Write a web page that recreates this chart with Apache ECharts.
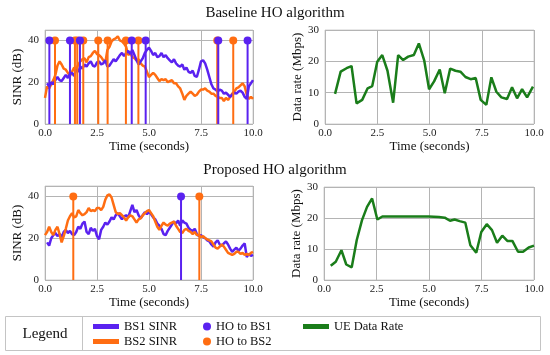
<!DOCTYPE html>
<html>
<head>
<meta charset="utf-8">
<script src="https://cdn.jsdelivr.net/npm/echarts@6/dist/echarts.min.js"></script>
<style>html,body{margin:0;padding:0;background:#fff}#c{width:550px;height:355px}</style>
</head>
<body>
<div id="c"></div>
<script>
// ---------- DATA ----------
const xTicks = [0, 2.5, 5, 7.5, 10];
const sinrStep = 0.1;
// Baseline: BS1 SINR starts at t=0.1, BS2 SINR at t=0.0 (sampled every 0.1 s)
const baseBS1Start = 0.1;
const baseBS1 = [19.5,18,20,19,21,22.5,21,20.5,22,23.5,
 22,24,24.5,23,26,25,27.5,26.5,28.5,27.5,
 29,30,28,27.5,29.5,30,28.5,29,30.5,27.5,
 28,29.5,31,30,31.5,33,34,32.5,34,35,
 33.5,35.5,33,30.5,28.5,30,31.5,34,35.5,36.5,
 35,33,34,32,32.5,34,32,33,31.5,30.5,
 29.5,31,29,28,27.5,28.5,26,27,25,24.5,
 25.5,23,22.5,26,30,30.5,29,26,22.5,19,
 17,16.5,15.5,16.5,16,14.5,15,14,13,14,
 15,14.5,15.5,16,15,13,12,18,19.5,21];
const baseBS2Start = 0.0;
const baseBS2 = [12.5,18,17,19,21,23.5,28,30,28.5,26.5,
 26,24.5,23,25,27,26,28.5,30,31,31.5,
 29.5,32,32.5,34,35,33.5,33,32,30.5,29.5,
 35.5,37,39.5,40.5,41,42,40,39.5,38.5,37,
 33,34,32,31.5,30.5,31,29,28,27.5,25,
 22.5,23.5,24.5,23.5,22,20.5,21.5,21,21.5,20,
 20.5,21,19.5,19.5,18,17,14.5,11.5,13.5,14.5,
 15.5,14.5,13.5,14,15.5,16.5,16.5,17,16,15.5,
 14.5,14.5,13.5,13,12.5,12.5,11,12.5,11.5,13,
 14.5,15.5,17,17.5,18.5,19.5,18,14,12,13,12];
const baseHOtoBS1 = [0.21, 1.20, 1.68, 4.17, 4.84, 8.33, 9.74];
const baseHOtoBS2 = [0.48, 1.44, 1.55, 1.84, 2.56, 3.01, 3.89, 4.49, 8.28, 9.05];

// Proposed
const propBS1Start = 0.1;
const propBS1 = [18,16.5,20,21.5,22.5,21,22,20.5,23,24,
 22.5,23.5,22,21.5,23,25.5,24.5,27,28,23,
 22,25,23.5,24.5,21,19.5,24,25.5,27.5,26.5,
 28,30,29,31,32,30.5,29,30.5,31,30,
 33,36,32.5,33.5,31,29.5,31,32.5,31.5,32.5,
 31.5,30,29,27,26,24.5,22,21.5,23.5,25,
 26.5,28,27,28.5,26,28.5,27.5,27,25,24,
 23.5,24.5,22,21,21.5,20.5,20,19,18.5,17,
 16,18,19,17,16.5,17.5,18.5,17,15,13.5,
 14.5,15.5,14,15,16.5,17.5,11,12.5,11.5,12];
const propBS2Start = 0.0;
const propBS2 = [21.5,23,25.5,23,21.5,24,25.5,22,18,21,
 24.5,28.5,30.5,32,30,30.5,33.5,32,31,31.5,
 32.5,34.5,33,33.5,33,34.5,34.5,33.5,35,38.5,
 40.5,41,39.5,36,32.5,31.5,32,31,30,28.5,
 30,31,30.5,29,27.5,29,29.5,31,32,33,
 33.5,32,30.5,28,25.5,24,26,27.5,26.5,26,
 27,27.5,28,26,24.5,23,22.5,24,24.5,23.5,
 23,22,23,21.5,21.5,20.5,21,20,19.5,19,
 18.5,17,15.5,15,16,17,16,14.5,13,12.5,
 12,12.5,13.5,13.5,12.5,13,12,12.5,12,13,13.5];
const propHOtoBS1 = [6.54];
const propHOtoBS2 = [1.36, 7.42];
const hoLevel = 40;

// Data rate
const baseRateT = [0.48,0.75,1.03,1.27,1.51,1.78,2.04,2.26,2.5,2.74,2.99,3.26,3.5,3.74,3.98,4.25,4.49,4.75,4.98,5.22,5.49,5.73,5.99,6.24,6.48,6.72,6.97,7.21,7.45,7.72,7.96,8.2,8.44,8.71,8.95,9.19,9.43,9.67,9.95];
const baseRate  = [9.6,16.7,17.8,18.5,6.6,7.7,11.4,12.1,19.9,22,17,6.8,22,20.4,21.5,22,25.7,20.2,11.1,13.6,17.4,9.8,17.7,17,16.7,15,14.3,14.7,7.7,6.1,14.9,10.3,8.5,8,11.7,8.2,11.1,8.5,11.9];
const propRateT = [0.32,0.56,0.83,1.06,1.32,1.56,1.81,2.05,2.29,2.54,2.78,3.03,3.27,3.52,3.76,4.0,4.25,4.5,4.74,4.98,5.23,5.47,5.75,6.0,6.22,6.46,6.73,6.97,7.25,7.49,7.75,8.0,8.24,8.49,8.73,8.97,9.24,9.48,9.75,10.0];
const propRate  = [4.6,5.9,9.6,5,4.1,12.9,19.3,23.6,26.3,19.5,20.5,20.5,20.5,20.5,20.5,20.5,20.5,20.5,20.5,20.5,20.4,20.3,20.1,19.1,19.5,19,18.5,11.2,8.8,15.5,18,16.1,12,14.3,12.6,12.6,9.1,9.1,10.5,11.1];

// ---------- CHART ----------
const BLUE = '#5a22f0', ORANGE = '#ff6d12', GREEN = '#1a7d1a';
const FONT = 'Liberation Serif';
const toPairs = (start, arr) => arr.map((v, i) => [+(start + i * sinrStep).toFixed(2), v]);
const zip = (xs, ys) => xs.map((x, i) => [x, ys[i]]);

const grids = [
  {left: 45, top: 30, width: 208, height: 94},
  {left: 325, top: 30, width: 209, height: 94},
  {left: 45, top: 186, width: 208, height: 94},
  {left: 324, top: 187, width: 210, height: 93}
].map(g => Object.assign(g, {show: true, borderColor: '#d0d0d0', borderWidth: 1, backgroundColor: 'transparent'}));

const xAxes = grids.map((g, i) => ({
  type: 'value', gridIndex: i, min: 0, max: 10, interval: 2.5,
  name: 'Time (seconds)', nameLocation: 'middle', nameGap: 16,
  nameTextStyle: {fontFamily: FONT, fontSize: 13, color: '#111'},
  axisLine: {show: false}, axisTick: {show: false},
  axisLabel: {fontFamily: FONT, fontSize: 11, color: '#222', margin: 4, formatter: v => v.toFixed(1)},
  splitLine: {show: true, lineStyle: {color: '#b4b4b4', width: 1}}
}));
const yAxes = grids.map((g, i) => {
  const sinr = (i % 2 === 0);
  return {
    type: 'value', gridIndex: i, min: 0, max: sinr ? 45 : 30, interval: sinr ? 20 : 10,
    name: sinr ? 'SINR (dB)' : 'Data rate (Mbps)', nameLocation: 'middle', nameGap: sinr ? 21 : 19,
    nameTextStyle: {fontFamily: FONT, fontSize: 13, color: '#111'},
    axisLine: {show: false}, axisTick: {show: false},
    axisLabel: {fontFamily: FONT, fontSize: 11, color: '#222', margin: 6,
      showMaxLabel: !sinr},
    splitLine: {show: true, lineStyle: {color: '#b4b4b4', width: 1}}
  };
});

function lineSeries(name, idx, data, color, width, z) {
  return {type: 'line', name, xAxisIndex: idx, yAxisIndex: idx, data, showSymbol: false, symbol: 'none',
    lineStyle: {color, width}, itemStyle: {color}, z, animation: false};
}
function stemSeries(name, idx, times, color) {
  return {
    type: 'custom', name, xAxisIndex: idx, yAxisIndex: idx, z: 5, animation: false,
    itemStyle: {color},
    data: times.map(t => [t, hoLevel]),
    encode: {x: 0, y: 1},
    renderItem: (params, api) => {
      const p0 = api.coord([api.value(0), 0]);
      const p1 = api.coord([api.value(0), api.value(1)]);
      return {type: 'group', children: [
        {type: 'line', shape: {x1: p0[0], y1: p0[1], x2: p1[0], y2: p1[1]}, style: {stroke: color, lineWidth: 2}},
        {type: 'circle', shape: {cx: p1[0], cy: p1[1], r: 4}, style: {fill: color}}
      ]};
    }
  };
}

const series = [
  lineSeries('BS2 SINR', 0, toPairs(baseBS2Start, baseBS2), ORANGE, 2.5, 2),
  lineSeries('BS1 SINR', 0, toPairs(baseBS1Start, baseBS1), BLUE, 2.5, 3),
  stemSeries('HO to BS2', 0, baseHOtoBS2, ORANGE),
  stemSeries('HO to BS1', 0, baseHOtoBS1, BLUE),
  lineSeries('UE Data Rate', 1, zip(baseRateT, baseRate), GREEN, 2.5, 2),
  lineSeries('BS1 SINR', 2, toPairs(propBS1Start, propBS1), BLUE, 2.5, 2),
  lineSeries('BS2 SINR', 2, toPairs(propBS2Start, propBS2), ORANGE, 2.5, 3),
  stemSeries('HO to BS2', 2, propHOtoBS2, ORANGE),
  stemSeries('HO to BS1', 2, propHOtoBS1, BLUE),
  lineSeries('UE Data Rate', 3, zip(propRateT, propRate), GREEN, 2.5, 2)
];

const legTxt = {fontFamily: FONT, fontSize: 12.5, color: '#111'};
const legCommon = {orient: 'vertical', padding: 0, top: 320, itemGap: 2, textStyle: legTxt, selectedMode: false, height: 40};
const option = {
  animation: false,
  textStyle: {fontFamily: FONT},
  title: [
    {text: 'Baseline HO algorithm', left: 'center', top: 1, textStyle: {fontFamily: FONT, fontSize: 15, fontWeight: 'normal', color: '#111'}},
    {text: 'Proposed HO algorithm', left: 'center', top: 158, textStyle: {fontFamily: FONT, fontSize: 15, fontWeight: 'normal', color: '#111'}}
  ],
  legend: [
    Object.assign({data: ['BS1 SINR', 'BS2 SINR'], left: 93, icon: 'rect', itemWidth: 26, itemHeight: 5, itemStyle: {borderWidth: 0}}, legCommon),
    Object.assign({data: ['HO to BS1', 'HO to BS2'], left: 203, icon: 'circle', itemWidth: 8, itemHeight: 8}, legCommon),
    Object.assign({data: ['UE Data Rate'], left: 303, icon: 'rect', itemWidth: 26, itemHeight: 5}, legCommon)
  ],
  graphic: [
    {type: 'rect', shape: {x: 5.5, y: 316.5, width: 535, height: 34}, style: {fill: 'none', stroke: '#c4c4c4', lineWidth: 1}},
    {type: 'line', shape: {x1: 82.5, y1: 316.5, x2: 82.5, y2: 350.5}, style: {stroke: '#c4c4c4', lineWidth: 1}},
    {type: 'text', x: 45, y: 334, style: {text: 'Legend', fontFamily: FONT, fontSize: 15, fill: '#111', align: 'center', verticalAlign: 'middle'}}
  ],
  grid: grids, xAxis: xAxes, yAxis: yAxes, series
};
const chart = echarts.init(document.getElementById('c'), null, {renderer: 'canvas'});
chart.setOption(option);
</script>
</body>
</html>
